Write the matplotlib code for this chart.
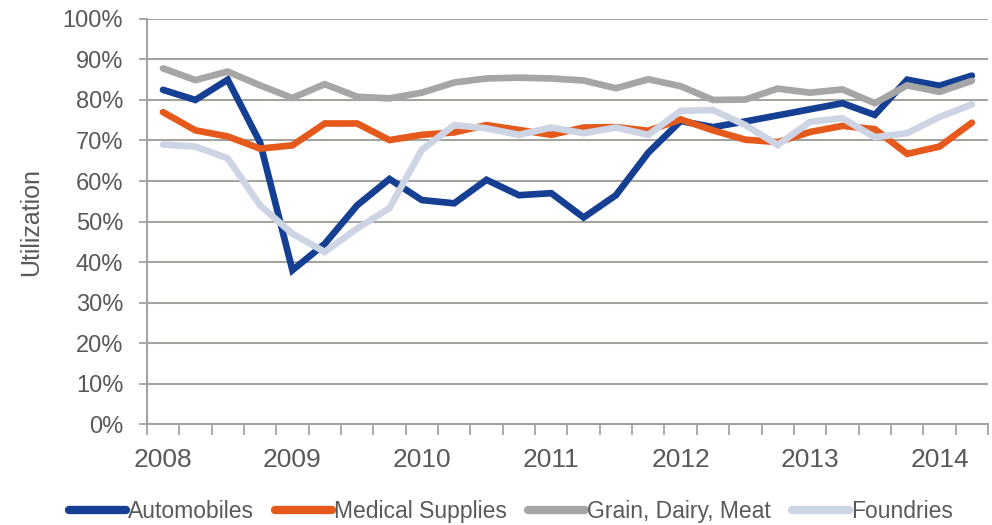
import matplotlib
matplotlib.use("Agg")
import matplotlib.pyplot as plt
from matplotlib.ticker import FixedLocator, FuncFormatter

plt.rcParams['font.family'] = ['Liberation Sans', 'DejaVu Sans']

# quarterly, 2008 Q1 .. 2014 Q2
years = ['2008', '2009', '2010', '2011', '2012', '2013', '2014']

automobiles = [82.5, 80.0, 85.0, 69.5, 38.0, 44.5, 54.0, 60.5, 55.3, 54.5, 60.3, 56.5, 57.0,
               51.0, 56.5, 67.0, 74.8, 73.3, 74.7, 76.2, 77.7, 79.2, 76.3, 85.0, 83.5, 86.0]
medical = [77.0, 72.5, 71.0, 68.0, 68.8, 74.2, 74.2, 70.1, 71.4, 72.0, 73.8, 72.6, 71.4,
           73.2, 73.3, 72.4, 75.2, 72.5, 70.2, 69.6, 72.1, 73.6, 72.8, 66.7, 68.5, 74.4]
grain = [87.8, 84.9, 87.0, 83.6, 80.5, 83.9, 80.8, 80.4, 81.8, 84.3, 85.3, 85.5, 85.3,
         84.8, 82.9, 85.1, 83.4, 80.0, 80.1, 82.8, 81.8, 82.6, 79.2, 83.6, 82.0, 84.7]
foundries = [69.0, 68.5, 65.6, 54.0, 47.0, 42.5, 48.3, 53.3, 67.7, 73.8, 73.0, 71.4, 73.2,
             71.8, 73.2, 71.4, 77.3, 77.5, 73.8, 68.9, 74.6, 75.5, 70.8, 71.8, 75.8, 78.9]

series = [
    ('Automobiles', automobiles, '#153F92'),
    ('Medical Supplies', medical, '#E55A1C'),
    ('Grain, Dairy, Meat', grain, '#A6A6A6'),
    ('Foundries', foundries, '#CDD4E4'),
]

text_col = '#595959'
grid_col = '#A3A3A0'

fig = plt.figure(figsize=(9.92, 5.25), dpi=100)
ax = fig.add_axes([0.148, 0.192, 0.848, 0.772])

x = list(range(len(automobiles)))
for name, vals, col in series:
    ax.plot(x, vals, color=col, lw=4.8, label=name, solid_joinstyle='miter',
            solid_capstyle='round')

ax.set_xlim(-0.5, len(x) - 0.5)
ax.set_ylim(0, 100)

# y axis
ax.set_yticks(range(0, 101, 10))
ax.yaxis.set_major_formatter(FuncFormatter(lambda v, p: '%d%%' % v))
ax.grid(axis='y', color=grid_col, lw=1.5)
ax.set_axisbelow(True)
ax.tick_params(axis='y', length=6, width=1.3, color=grid_col, labelcolor=text_col,
               labelsize=17, pad=11)

# x axis: ticks on category boundaries, year labels every 4 quarters
ax.xaxis.set_major_locator(FixedLocator([i - 0.5 for i in range(len(x) + 1)]))
ax.xaxis.set_major_formatter(FuncFormatter(lambda v, p: ''))
ax.xaxis.set_minor_locator(FixedLocator([4 * i for i in range(len(years))]))
ax.set_xticklabels(years, minor=True)
ax.tick_params(axis='x', which='major', length=8, width=1.3, color=grid_col)
ax.tick_params(axis='x', which='minor', length=0, pad=17, labelsize=19, labelcolor=text_col)

for s in ['top', 'right']:
    ax.spines[s].set_visible(False)
for s in ['left', 'bottom']:
    ax.spines[s].set_color(grid_col)
    ax.spines[s].set_linewidth(1.5)

ax.set_ylabel('Utilization', fontsize=18, color=text_col, labelpad=14)

leg = fig.legend(loc='lower center', bbox_to_anchor=(0.515, -0.035), ncol=4, frameon=False,
                 fontsize=16.5, handlelength=2.5, handletextpad=0.1, columnspacing=0.9)
for t in leg.get_texts():
    t.set_color(text_col)
for h in leg.get_lines():
    h.set_linewidth(6)

fig.savefig('out.png', dpi=100)
